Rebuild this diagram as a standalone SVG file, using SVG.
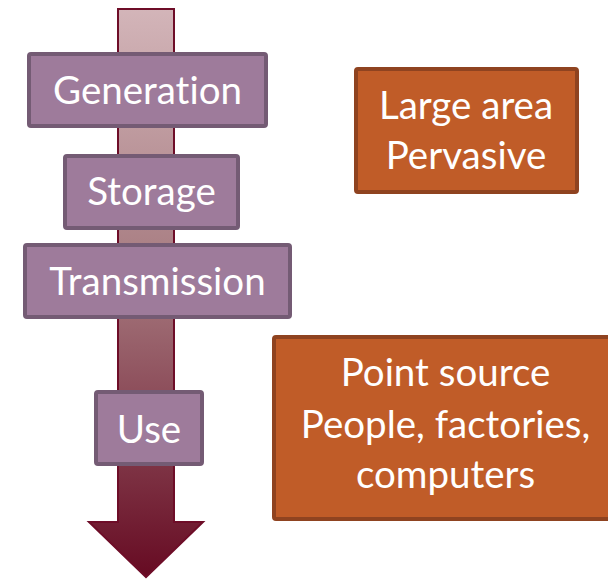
<svg xmlns="http://www.w3.org/2000/svg" width="608" height="583" viewBox="0 0 608 583">
  <defs>
    <linearGradient id="flowGrad" x1="0" y1="8" x2="0" y2="578" gradientUnits="userSpaceOnUse">
      <stop offset="0" stop-color="#d3b5b9"/>
      <stop offset="0.45" stop-color="#a87d82"/>
      <stop offset="1" stop-color="#660a22"/>
    </linearGradient>
  </defs>
  <style>
    .stage rect { fill: #9e7b9b; stroke: #745b74; stroke-width: 4; }
    .note rect { fill: #c05c28; stroke: #8f4320; stroke-width: 4; }
    text { font-family: "Lato", "Open Sans", "Liberation Sans", sans-serif; fill: #ffffff; text-anchor: middle; font-size: 38.5px; font-variant-ligatures: none; }
  </style>

  <!-- flow arrow running top to bottom -->
  <g id="connectors">
    <path d="M118,9 H174 V522 H203 L146,577 L89,522 H118 Z" fill="url(#flowGrad)" stroke="#6e0d28" stroke-width="2"/>
  </g>

  <g id="generation" class="stage">
    <rect x="29" y="54" width="237" height="72" rx="2"/>
    <text x="147.5" y="104">Generation</text>
  </g>

  <g id="storage" class="stage">
    <rect x="65" y="156" width="173" height="72" rx="2"/>
    <text x="151.5" y="205">Storage</text>
  </g>

  <g id="transmission" class="stage">
    <rect x="25" y="245" width="265" height="72" rx="2"/>
    <text x="157.5" y="295">Transmission</text>
  </g>

  <g id="use" class="stage">
    <rect x="96" y="392" width="106" height="72" rx="2"/>
    <text x="149" y="443">Use</text>
  </g>

  <g id="large-area" class="note">
    <rect x="356" y="69" width="221" height="123" rx="2"/>
    <text x="466" y="119">Large area</text>
    <text x="466" y="169">Pervasive</text>
  </g>

  <g id="point-source" class="note">
    <rect x="274" y="337" width="340" height="182" rx="2"/>
    <text x="445.5" y="386">Point source</text>
    <text x="445.5" y="438">People, factories,</text>
    <text x="445.5" y="488">computers</text>
  </g>
</svg>
